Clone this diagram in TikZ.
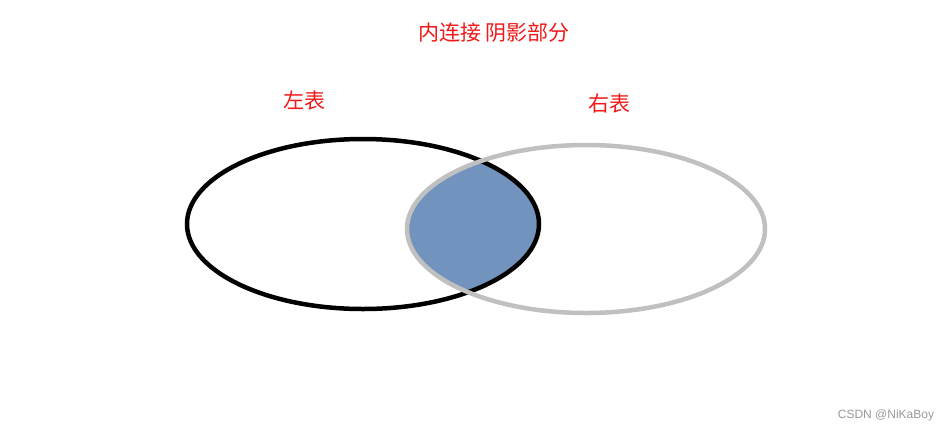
\documentclass[tikz,border=0pt]{standalone}
\usepackage{fontspec}
\setmainfont{Liberation Sans}
\newfontfamily\cjk{Noto Sans CJK SC}
\definecolor{joinblue}{HTML}{7193BE}
\definecolor{lgray}{HTML}{C0C0C0}
\definecolor{lred}{HTML}{F01818}
\begin{document}
\begin{tikzpicture}[x=1pt,y=-1pt,
  lbl/.style={text=lred,font=\cjk\fontsize{21}{24}\selectfont,inner sep=0pt},
  leftset/.style={draw=black,line width=4.5pt},
  rightset/.style={draw=lgray,line width=4.5pt}]
\useasboundingbox[fill=white] (0,0) rectangle (950,432);
\coordinate (L) at (363,224);
\coordinate (R) at (586,229);
\begin{scope}
  \clip (L) ellipse [x radius=176, y radius=85];
  \fill[joinblue] (R) ellipse [x radius=179, y radius=84];
\end{scope}
\draw[leftset] (L) ellipse [x radius=176, y radius=85];
\draw[rightset] (R) ellipse [x radius=179, y radius=84];
\node[lbl] (title) at (494,33) {内连接 阴影部分};
\node[lbl] (lt) at (304,101) {左表};
\node[lbl] (rt) at (609,104) {右表};
\node[text=gray!80,font=\fontsize{12}{14}\selectfont,inner sep=0pt] (wm) at (886,415) {CSDN @NiKaBoy};
\end{tikzpicture}
\end{document}
